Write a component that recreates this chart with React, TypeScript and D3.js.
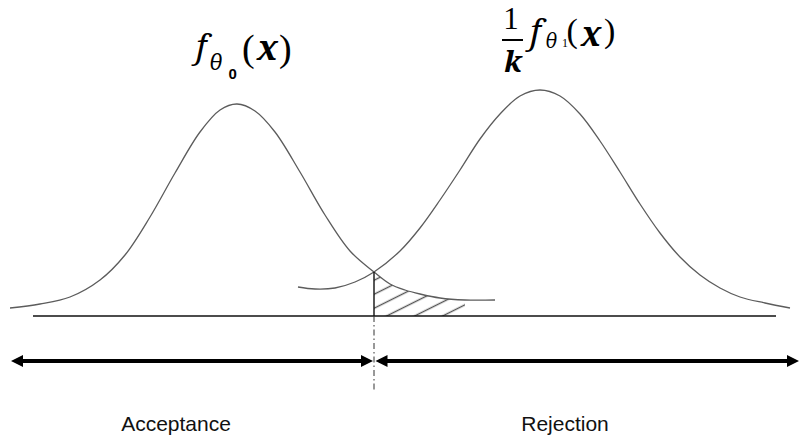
import React from "react";
import * as d3 from "d3";

// Density under the null hypothesis, f_θ0(x)
const nullX = [2, 8, 14, 20, 25, 30, 35, 40, 44, 47.4, 51, 55, 60, 65, 70, 74.8, 78, 81, 84, 88, 93, 99];
const nullY = [4, 6, 9.5, 18, 30.5, 49.5, 71.5, 92, 103, 106, 102.5, 92, 72, 50.5, 32.5, 22, 16, 13, 11, 9, 8, 8];

// Scaled density under the alternative, (1/k) f_θ1(x)
const altX = [59.6, 63, 67, 71, 74.8, 80, 84, 88, 92, 96, 100, 104, 108, 112, 116, 120, 124, 128, 132, 136, 140, 144, 148, 153, 158];
const altY = [14.5, 13.5, 14, 17, 22, 32.5, 44, 58, 73, 88.5, 101, 110, 113, 110, 101, 87.5, 72, 56, 41.5, 29.5, 20.5, 14, 9.5, 6.5, 4];

// Critical value where the two curves cross, and the end of the shaded tail
const criticalValue = 74.8;
const criticalDensity = 22;
const hatchEnd = 93;

// Horizontal axis extent
const axisFrom = 6.6;
const axisTo = 155.2;

// Decision regions
const regionLabels = ["Acceptance", "Rejection"];
const regionFrom = [2.2, 75.1];
const regionTo = [74.6, 159.8];
const regionLabelX = [35.2, 113];

const W = 800;
const H = 447;

const CURVE = "#5c5c5c";
const SERIF = "'Liberation Serif', 'Times New Roman', serif";
const ITALIC = "'Noto Serif', 'DejaVu Serif', serif";
const SANS = "'Liberation Sans', Arial, sans-serif";

export default function App() {
  const x = d3.scaleLinear().domain([0, 160]).range([0, 800]);
  const y = d3.scaleLinear().domain([0, 150]).range([316, 16]);

  const line = d3
    .line<[number, number]>()
    .x((d) => x(d[0]))
    .y((d) => y(d[1]))
    .curve(d3.curveCatmullRom.alpha(0.5));

  const nullPts: [number, number][] = nullX.map((v, i) => [v, nullY[i]]);
  const altPts: [number, number][] = altX.map((v, i) => [v, altY[i]]);

  const tailPts = nullPts.filter((d) => d[0] >= criticalValue && d[0] <= hatchEnd);
  const tailArea = d3
    .area<[number, number]>()
    .x((d) => x(d[0]))
    .y0(y(0))
    .y1((d) => y(d[1]))
    .curve(d3.curveCatmullRom.alpha(0.5));

  // hatch geometry: lines rising to the right with slope 1/2
  const theta = Math.atan(0.5);
  const thetaDeg = (theta * 180) / Math.PI;
  const hatchStep = 28 * Math.sin(theta);
  const phaseV = 358.6 * Math.sin(theta) + y(0) * Math.cos(theta);
  const hatchOff = ((phaseV % hatchStep) + hatchStep) % hatchStep;

  const cx = x(criticalValue);
  const base = y(0);
  const arrowY = base + 45;
  const headLen = 12;
  const headHalf = 6;

  return (
    <svg
      width={W}
      height={H}
      style={{ position: "absolute", left: 0, top: 0, background: "#fff" }}
    >
      <defs>
        <pattern
          id="hatch"
          patternUnits="userSpaceOnUse"
          width={20}
          height={hatchStep}
          y={hatchOff - hatchStep / 2}
          patternTransform={`rotate(${-thetaDeg})`}
        >
          <line x1={0} x2={20} y1={hatchStep / 2} y2={hatchStep / 2} stroke="#555" strokeWidth={1.4} />
        </pattern>
      </defs>
      <rect width={W} height={H} fill="#fff" />

      {/* shaded tail of the null density beyond the critical value */}
      <path d={tailArea(tailPts) ?? ""} fill="url(#hatch)" stroke="none" />

      {/* axis */}
      <line x1={x(axisFrom)} x2={x(axisTo)} y1={base} y2={base} stroke="#111" strokeWidth={1.3} />

      {/* densities */}
      <path d={line(nullPts) ?? ""} fill="none" stroke={CURVE} strokeWidth={1.3} />
      <path d={line(altPts) ?? ""} fill="none" stroke={CURVE} strokeWidth={1.3} />

      {/* critical value */}
      <line x1={cx} x2={cx} y1={y(criticalDensity)} y2={base} stroke="#111" strokeWidth={1.4} />
      <line
        x1={cx}
        x2={cx}
        y1={base}
        y2={base + 76}
        stroke="#333"
        strokeWidth={1}
        strokeDasharray="6,3,1.5,3"
      />

      {/* decision regions */}
      {regionLabels.map((lab, i) => {
        const a = x(regionFrom[i]);
        const b = x(regionTo[i]);
        return (
          <g key={lab}>
            <line x1={a + 4} x2={b - 4} y1={arrowY} y2={arrowY} stroke="#000" strokeWidth={4} />
            <path
              d={`M${a},${arrowY} L${a + headLen},${arrowY - headHalf} L${a + headLen},${arrowY + headHalf} Z`}
              fill="#000"
            />
            <path
              d={`M${b},${arrowY} L${b - headLen},${arrowY - headHalf} L${b - headLen},${arrowY + headHalf} Z`}
              fill="#000"
            />
            <text
              x={x(regionLabelX[i])}
              y={431}
              textAnchor="middle"
              fontFamily={SANS}
              fontSize={21}
              fill="#111"
            >
              {lab}
            </text>
          </g>
        );
      })}

      {/* f_θ0(x) */}
      <g fill="#000">
        <text x={196} y={58} fontSize={33} fontFamily={ITALIC} fontStyle="italic">f</text>
        <text x={209} y={70} fontSize={22} fontFamily={ITALIC} fontStyle="italic">θ</text>
        <text x={228.5} y={79} fontSize={15} fontFamily={SANS} fontWeight="bold">0</text>
        <text x={242} y={61} fontSize={38} fontFamily={SERIF}>(</text>
        <text x={257} y={60} fontSize={35} fontFamily={ITALIC} fontStyle="italic" fontWeight="bold">x</text>
        <text x={279} y={61} fontSize={38} fontFamily={SERIF}>)</text>
      </g>

      {/* (1/k) f_θ1(x) */}
      <g fill="#000">
        <text x={511} y={29} fontSize={31} fontFamily={SERIF} textAnchor="middle">1</text>
        <line x1={502} x2={523} y1={40} y2={40} stroke="#000" strokeWidth={2} />
        <text x={513} y={72} fontSize={29} fontFamily={ITALIC} textAnchor="middle" fontStyle="italic" fontWeight="bold">k</text>
        <text x={530} y={44} fontSize={34} fontFamily={ITALIC} fontStyle="italic">f</text>
        <text x={545} y={48} fontSize={20} fontFamily={ITALIC} fontStyle="italic">θ</text>
        <text x={562} y={47} fontSize={12} fontFamily={SERIF}>1</text>
        <text x={566.5} y={42} fontSize={34} fontFamily={SERIF}>(</text>
        <text x={581} y={46} fontSize={34} fontFamily={ITALIC} fontStyle="italic" fontWeight="bold">x</text>
        <text x={604} y={42} fontSize={34} fontFamily={SERIF}>)</text>
      </g>
    </svg>
  );
}
